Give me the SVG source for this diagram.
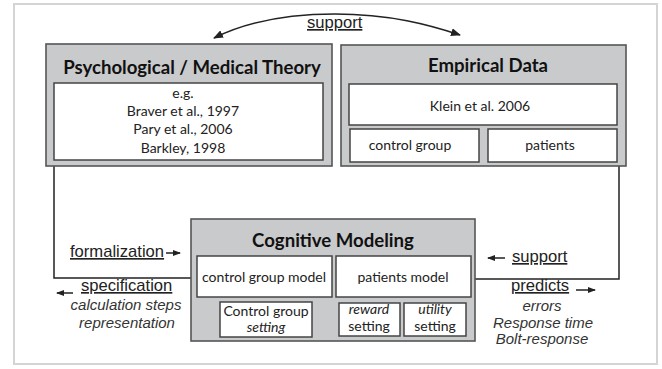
<svg xmlns="http://www.w3.org/2000/svg" width="662" height="369" viewBox="0 0 662 369">
<defs>
<style>
.frame{fill:#fff;stroke:#d4d4d4;stroke-width:2}
.outer{fill:#c9cacc;stroke:#555;stroke-width:1.6}
.inner{fill:#fff;stroke:#444;stroke-width:1.5}
.title{font-family:Lato,"Open Sans",sans-serif;font-weight:bold;font-size:18.6px;fill:#111;text-anchor:middle}
.box{font-family:Lato,"Open Sans",sans-serif;font-size:14px;fill:#222;text-anchor:middle}
.boxi{font-family:Lato,"Open Sans",sans-serif;font-size:14px;fill:#222;text-anchor:middle;font-style:italic}
.lbl{font-family:"Liberation Sans",Arial,sans-serif;font-size:16.6px;fill:#222;text-decoration:underline}
.it{font-family:"Liberation Sans",Arial,sans-serif;font-size:15px;fill:#333;font-style:italic;text-anchor:middle}
.line{fill:none;stroke:#222;stroke-width:1.5}
.arr{fill:none;stroke:#222;stroke-width:1.5}
</style>
<marker id="ah" markerWidth="10" markerHeight="8" refX="9" refY="4" orient="auto" markerUnits="userSpaceOnUse">
<path d="M0,0 L10,4 L0,8 z" fill="#222"/>
</marker>
<marker id="sh" markerWidth="8" markerHeight="6" refX="7" refY="3" orient="auto" markerUnits="userSpaceOnUse">
<path d="M0,0 L8,3 L0,6 z" fill="#222"/>
</marker>
</defs>
<rect class="frame" x="14" y="4" width="643" height="360"/>

<g id="connectors">
<path class="arr" d="M335,14 C280,14 240,25 214,38" marker-end="url(#ah)"/>
<path class="arr" d="M335,14 C390,14 430,25 460,35" marker-end="url(#ah)"/>
<path class="line" d="M54,166 V278 H191"/>
<path class="line" d="M619,166 V279 H475"/>
<path class="arr" d="M166,253 H180" marker-end="url(#sh)"/>
<path class="arr" d="M73,293 H57" marker-end="url(#sh)"/>
<path class="arr" d="M505,258 H488" marker-end="url(#sh)"/>
<path class="arr" d="M576,290 H595" marker-end="url(#sh)"/>
</g>

<g id="label-support-top"><text class="lbl" x="307" y="28">support</text></g>

<g id="theory">
<rect class="outer" x="46" y="44" width="286" height="122"/>
<text class="title" x="192" y="74">Psychological / Medical Theory</text>
<rect class="inner" x="54" y="83" width="269" height="77"/>
<text class="box" x="183" y="98">e.g.</text>
<text class="box" x="183" y="116">Braver et al., 1997</text>
<text class="box" x="183" y="134">Pary et al., 2006</text>
<text class="box" x="183" y="153">Barkley, 1998</text>
</g>

<g id="empirical">
<rect class="outer" x="341" y="45" width="285" height="121"/>
<text class="title" x="488" y="72">Empirical Data</text>
<g id="klein"><rect class="inner" x="349" y="84" width="268" height="41"/>
<text class="box" x="480" y="111">Klein et al. 2006</text></g>
<g id="control-group"><rect class="inner" x="350" y="129" width="129" height="33"/>
<text class="box" x="410" y="150">control group</text></g>
<g id="patients"><rect class="inner" x="488" y="129" width="129" height="33"/>
<text class="box" x="550" y="150">patients</text></g>
</g>

<g id="cognitive">
<rect class="outer" x="191" y="219" width="284" height="122"/>
<text class="title" x="333" y="247">Cognitive Modeling</text>
<g id="control-model"><rect class="inner" x="197" y="256" width="135" height="41"/>
<text class="box" x="264" y="282">control group model</text></g>
<g id="patients-model"><rect class="inner" x="336" y="256" width="135" height="41"/>
<text class="box" x="403" y="282">patients model</text></g>
<g id="control-setting"><rect class="inner" x="220" y="302" width="92" height="35"/>
<text class="box" x="266" y="316">Control group</text>
<text class="boxi" x="266" y="332">setting</text></g>
<g id="reward-setting"><rect class="inner" x="339" y="303" width="61" height="33"/>
<text class="boxi" x="369" y="314">reward</text>
<text class="box" x="369" y="331">setting</text></g>
<g id="utility-setting"><rect class="inner" x="404" y="303" width="62" height="33"/>
<text class="boxi" x="435" y="314">utility</text>
<text class="box" x="435" y="331">setting</text></g>
</g>

<g id="labels-left">
<text class="lbl" x="70" y="257">formalization</text>
<text class="lbl" x="81" y="291">specification</text>
<text class="it" x="126" y="310">calculation steps</text>
<text class="it" x="127" y="328">representation</text>
</g>
<g id="labels-right">
<text class="lbl" x="512" y="262">support</text>
<text class="lbl" x="511" y="291">predicts</text>
<text class="it" x="542" y="311">errors</text>
<text class="it" x="543" y="327.5">Response time</text>
<text class="it" x="542" y="344">Bolt-response</text>
</g>
</svg>
